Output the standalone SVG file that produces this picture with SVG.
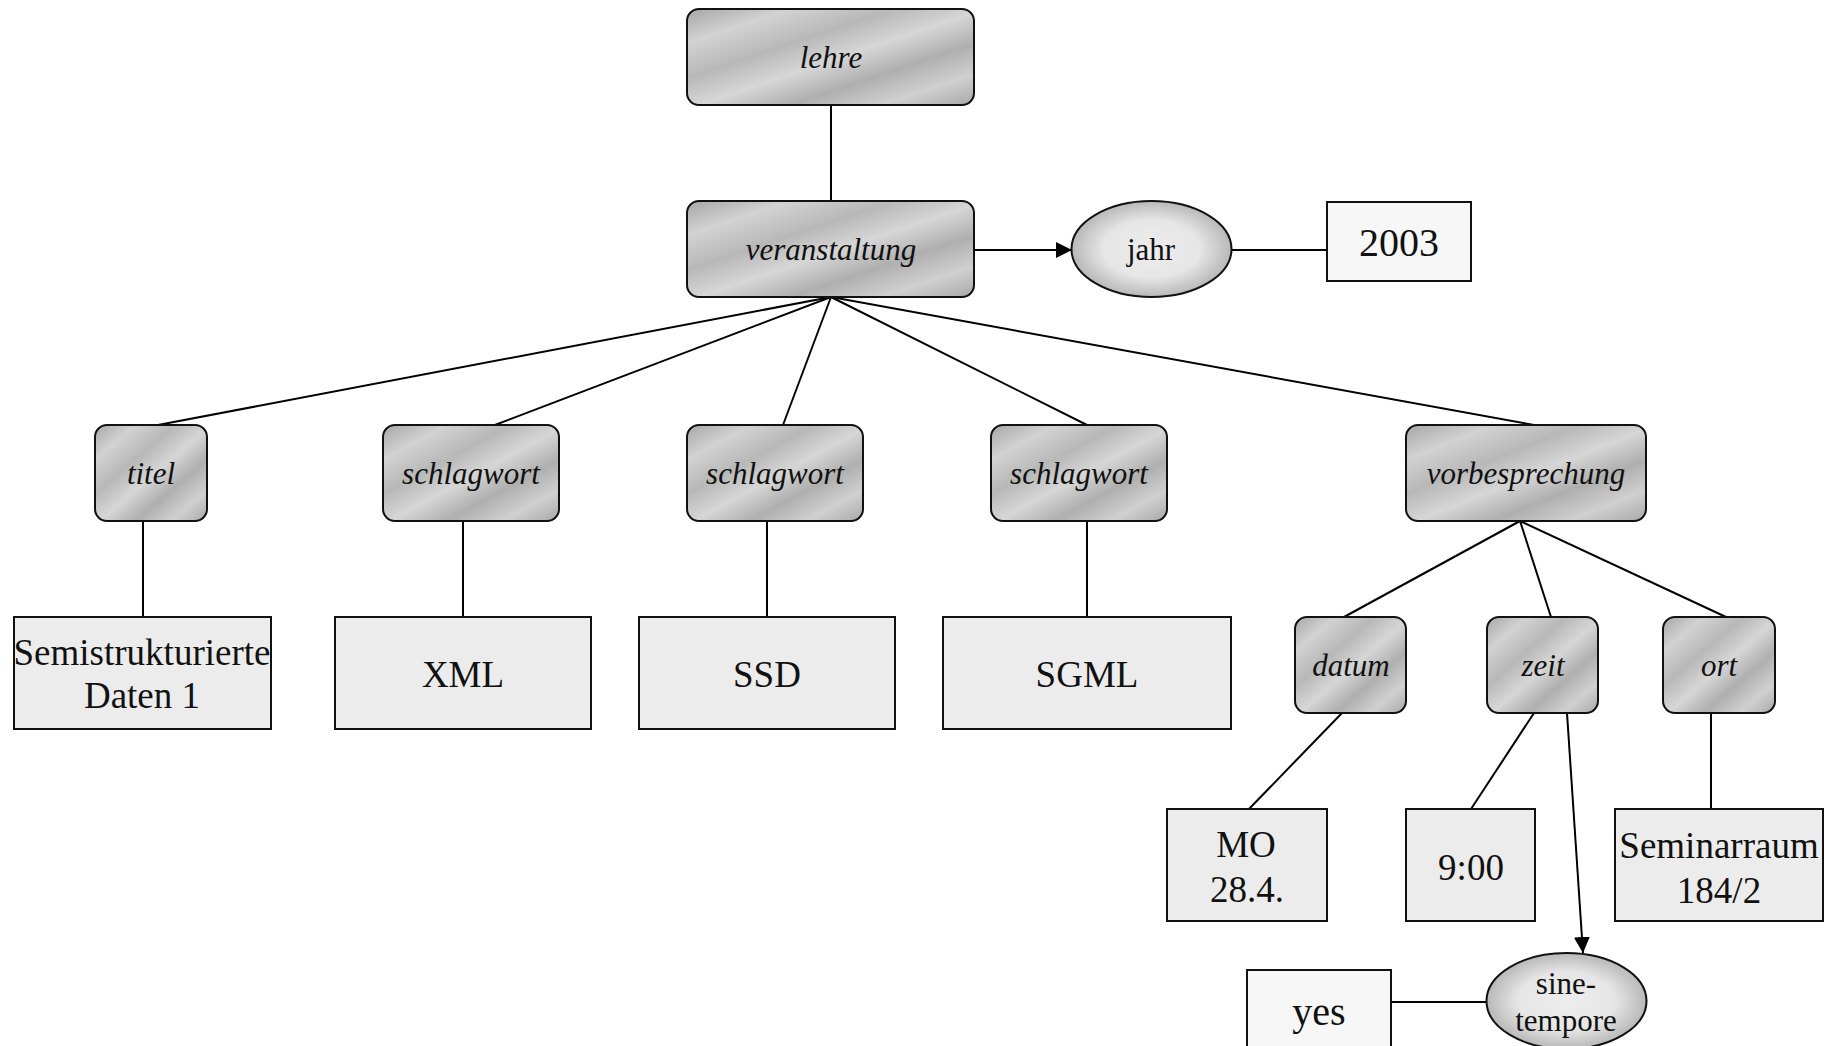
<svg xmlns="http://www.w3.org/2000/svg" width="1836" height="1046" viewBox="0 0 1836 1046">
  <defs>
    <!-- brushed-metal fill for element nodes -->
    <linearGradient id="metal" x1="0" y1="0" x2="1" y2="1">
      <stop offset="0" stop-color="#a6a6a6"/>
      <stop offset="0.18" stop-color="#d2d2d2"/>
      <stop offset="0.36" stop-color="#b8b8b8"/>
      <stop offset="0.52" stop-color="#d6d6d6"/>
      <stop offset="0.68" stop-color="#afafaf"/>
      <stop offset="0.84" stop-color="#d0d0d0"/>
      <stop offset="1" stop-color="#a8a8a8"/>
    </linearGradient>
    <!-- soft shaded fill for attribute ellipses -->
    <radialGradient id="bulb" cx="0.5" cy="0.5" r="0.5">
      <stop offset="0" stop-color="#ededed"/>
      <stop offset="0.6" stop-color="#e6e6e6"/>
      <stop offset="1" stop-color="#b8b8b8"/>
    </radialGradient>
    <marker id="arrow" viewBox="0 0 10 10" refX="10" refY="5" markerWidth="16" markerHeight="16" markerUnits="userSpaceOnUse" orient="auto">
      <path d="M0,0 L10,5 L0,10 z" fill="#000"/>
    </marker>
    <style>
      .elem { fill: url(#metal); stroke: #111; stroke-width: 2; }
      .leaf { fill: #ececec; stroke: #111; stroke-width: 2; }
      .val { fill: #f7f7f7; stroke: #111; stroke-width: 2; }
      .attr { fill: url(#bulb); stroke: #111; stroke-width: 2; }
      .edge { stroke: #000; stroke-width: 2; fill: none; }
      .lbl { font-family: "Liberation Serif", "Times New Roman", serif; font-style: italic; font-size: 31px; fill: #111; text-anchor: middle; }
      .txt { font-family: "Liberation Serif", "Times New Roman", serif; font-size: 37px; fill: #111; text-anchor: middle; }
      .big { font-family: "Liberation Serif", "Times New Roman", serif; font-size: 40px; fill: #111; text-anchor: middle; }
      .atxt { font-family: "Liberation Serif", "Times New Roman", serif; font-size: 31px; fill: #111; text-anchor: middle; }
    </style>
  </defs>

  <g id="connectors">
    <line class="edge" x1="831" y1="105" x2="831" y2="201"/>
    <line class="edge" x1="974" y1="250" x2="1072" y2="250" marker-end="url(#arrow)"/>
    <line class="edge" x1="1231" y1="250" x2="1327" y2="250"/>
    <line class="edge" x1="831" y1="297" x2="158" y2="425"/>
    <line class="edge" x1="831" y1="297" x2="495" y2="425"/>
    <line class="edge" x1="831" y1="297" x2="783" y2="425"/>
    <line class="edge" x1="831" y1="297" x2="1087" y2="425"/>
    <line class="edge" x1="831" y1="297" x2="1534" y2="425"/>
    <line class="edge" x1="143" y1="521" x2="143" y2="617"/>
    <line class="edge" x1="463" y1="521" x2="463" y2="617"/>
    <line class="edge" x1="767" y1="521" x2="767" y2="617"/>
    <line class="edge" x1="1087" y1="521" x2="1087" y2="617"/>
    <line class="edge" x1="1520" y1="521" x2="1344" y2="617"/>
    <line class="edge" x1="1520" y1="521" x2="1551" y2="617"/>
    <line class="edge" x1="1520" y1="521" x2="1726" y2="617"/>
    <line class="edge" x1="1342" y1="713" x2="1249" y2="809"/>
    <line class="edge" x1="1534" y1="713" x2="1471" y2="809"/>
    <line class="edge" x1="1567" y1="713" x2="1583" y2="953" marker-end="url(#arrow)"/>
    <line class="edge" x1="1711" y1="713" x2="1711" y2="809"/>
    <line class="edge" x1="1391" y1="1002" x2="1487" y2="1002"/>
  </g>

  <g id="lehre">
    <rect class="elem" x="687" y="9" width="287" height="96" rx="12"/>
    <text class="lbl" x="831" y="68">lehre</text>
  </g>
  <g id="veranstaltung">
    <rect class="elem" x="687" y="201" width="287" height="96" rx="12"/>
    <text class="lbl" x="831" y="260">veranstaltung</text>
  </g>
  <g id="jahr">
    <ellipse class="attr" cx="1151.5" cy="249" rx="80" ry="48"/>
    <text class="atxt" x="1151" y="260">jahr</text>
  </g>
  <g id="val-2003">
    <rect class="val" x="1327" y="202" width="144" height="79"/>
    <text class="big" x="1399" y="256">2003</text>
  </g>

  <g id="titel">
    <rect class="elem" x="95" y="425" width="112" height="96" rx="12"/>
    <text class="lbl" x="151" y="484">titel</text>
  </g>
  <g id="schlagwort-1">
    <rect class="elem" x="383" y="425" width="176" height="96" rx="12"/>
    <text class="lbl" x="471" y="484">schlagwort</text>
  </g>
  <g id="schlagwort-2">
    <rect class="elem" x="687" y="425" width="176" height="96" rx="12"/>
    <text class="lbl" x="775" y="484">schlagwort</text>
  </g>
  <g id="schlagwort-3">
    <rect class="elem" x="991" y="425" width="176" height="96" rx="12"/>
    <text class="lbl" x="1079" y="484">schlagwort</text>
  </g>
  <g id="vorbesprechung">
    <rect class="elem" x="1406" y="425" width="240" height="96" rx="12"/>
    <text class="lbl" x="1526" y="484">vorbesprechung</text>
  </g>

  <g id="val-titel">
    <rect class="leaf" x="14" y="617" width="257" height="112"/>
    <text class="txt" x="142" y="665">Semistrukturierte</text>
    <text class="txt" x="142" y="708">Daten 1</text>
  </g>
  <g id="val-xml">
    <rect class="leaf" x="335" y="617" width="256" height="112"/>
    <text class="txt" x="463" y="687">XML</text>
  </g>
  <g id="val-ssd">
    <rect class="leaf" x="639" y="617" width="256" height="112"/>
    <text class="txt" x="767" y="687">SSD</text>
  </g>
  <g id="val-sgml">
    <rect class="leaf" x="943" y="617" width="288" height="112"/>
    <text class="txt" x="1087" y="687">SGML</text>
  </g>

  <g id="datum">
    <rect class="elem" x="1295" y="617" width="111" height="96" rx="12"/>
    <text class="lbl" x="1351" y="676">datum</text>
  </g>
  <g id="zeit">
    <rect class="elem" x="1487" y="617" width="111" height="96" rx="12"/>
    <text class="lbl" x="1543" y="676">zeit</text>
  </g>
  <g id="ort">
    <rect class="elem" x="1663" y="617" width="112" height="96" rx="12"/>
    <text class="lbl" x="1719" y="676">ort</text>
  </g>

  <g id="val-datum">
    <rect class="leaf" x="1167" y="809" width="160" height="112"/>
    <text class="txt" x="1246" y="857">MO</text>
    <text class="txt" x="1247" y="902">28.4.</text>
  </g>
  <g id="val-zeit">
    <rect class="leaf" x="1406" y="809" width="129" height="112"/>
    <text class="txt" x="1471" y="880">9:00</text>
  </g>
  <g id="val-ort">
    <rect class="leaf" x="1615" y="809" width="208" height="112"/>
    <text class="txt" x="1719" y="858">Seminarraum</text>
    <text class="txt" x="1719" y="903">184/2</text>
  </g>

  <g id="sine-tempore">
    <ellipse class="attr" cx="1566.5" cy="1001" rx="80" ry="48"/>
    <text class="atxt" x="1566" y="994">sine-</text>
    <text class="atxt" x="1566" y="1031">tempore</text>
  </g>
  <g id="val-yes">
    <rect class="val" x="1247" y="970" width="144" height="80"/>
    <text class="big" x="1319" y="1025">yes</text>
  </g>
</svg>
